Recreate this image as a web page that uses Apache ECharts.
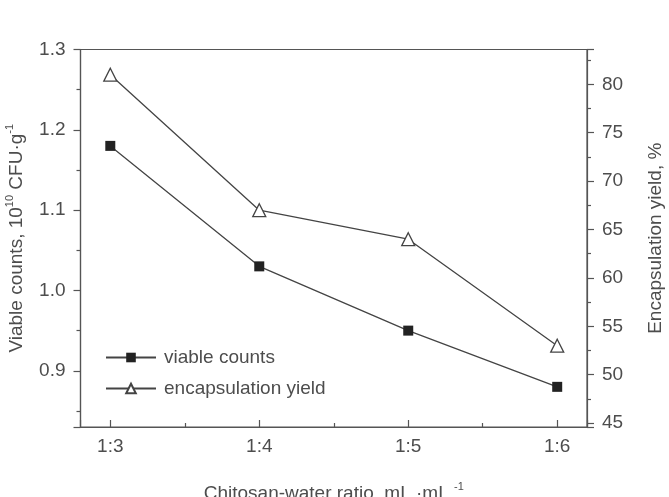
<!DOCTYPE html>
<html>
<head>
<meta charset="utf-8">
<script src="https://cdn.jsdelivr.net/npm/echarts@6/dist/echarts.min.js"></script>
<style>html,body{margin:0;padding:0;background:#fff;}#c{width:669px;height:497px;}</style>
</head>
<body>
<div id="c"></div>
<script>
var ratios = [3, 4, 5, 6];            // chitosan:water 1:x
var viableCounts = [1.18, 1.03, 0.95, 0.88];
var encapsulationYield = [81, 67, 64, 53];

var chart = echarts.init(document.getElementById('c'), null, {renderer: 'canvas'});
var font = 'Liberation Sans, Arial, sans-serif';
var txt = '#4d4d4d';
var axisCol = '#555555';
var fs = 19;

function pairs(vals) { return ratios.map(function (r, i) { return [r, vals[i]]; }); }
var rich = {
  m: {fontSize: fs, color: txt, fontFamily: font, lineHeight: 22, verticalAlign: 'bottom'},
  s: {fontSize: 11, color: txt, fontFamily: font, verticalAlign: 'top', lineHeight: 22}
};

chart.setOption({
  animation: false,
  backgroundColor: '#ffffff',
  textStyle: {fontFamily: font},
  grid: {left: 80.5, right: 82, top: 49.5, bottom: 70, containLabel: false, outerBoundsMode: 'none',
    show: true, borderColor: axisCol, borderWidth: 1.2, backgroundColor: 'transparent'},
  legend: {
    left: 100, top: 343, orient: 'vertical', itemGap: 12, itemWidth: 50, itemHeight: 12,
    textStyle: {fontFamily: font, fontSize: fs, color: txt, padding: [0, 0, 0, 3]},
    data: ['viable counts', 'encapsulation yield']
  },
  xAxis: {
    type: 'value', min: 2.8, max: 6.2, splitNumber: 4,
    axisLine: {lineStyle: {color: axisCol, width: 1.2}},
    axisTick: {inside: true, length: 7, lineStyle: {color: axisCol, width: 1.2}},
    minorTick: {show: true, splitNumber: 2, length: 4, lineStyle: {color: axisCol, width: 1.2}},
    splitLine: {show: false},
    axisLabel: {fontSize: fs, color: txt, margin: 10, fontFamily: font,
      formatter: function (v) { return Math.abs(v - Math.round(v)) < 1e-6 ? '1:' + Math.round(v) : ''; }},
    name: '{m|Chitosan-water ratio, mL ·mL }{s|-1}',
    nameLocation: 'middle', nameGap: 54,
    nameTextStyle: {rich: rich}
  },
  yAxis: [{
    type: 'value', min: 0.83, max: 1.3, splitNumber: 5, position: 'left',
    axisLine: {show: true, lineStyle: {color: axisCol, width: 1.2}},
    axisTick: {show: true, inside: false, length: 7, lineStyle: {color: axisCol, width: 1.2}},
    minorTick: {show: true, splitNumber: 2, length: 4, lineStyle: {color: axisCol, width: 1.2}},
    splitLine: {show: false},
    axisLabel: {fontSize: fs, color: txt, margin: 15, fontFamily: font,
      formatter: function (v) { return Math.abs(v * 10 - Math.round(v * 10)) < 1e-6 ? v.toFixed(1) : ''; }},
    name: '{m|Viable counts, 10}{s|10}{m| CFU·g}{s|-1}',
    nameLocation: 'middle', nameGap: 54, nameRotate: 90,
    nameTextStyle: {rich: rich}
  }, {
    type: 'value', min: 44.6, max: 83.6, splitNumber: 8, position: 'right',
    axisLine: {show: true, lineStyle: {color: axisCol, width: 1.2}},
    axisTick: {show: true, inside: false, length: 7, lineStyle: {color: axisCol, width: 1.2}},
    minorTick: {show: true, splitNumber: 2, length: 4, lineStyle: {color: axisCol, width: 1.2}},
    splitLine: {show: false},
    axisLabel: {fontSize: fs, color: txt, margin: 15, fontFamily: font,
      formatter: function (v) { return Math.abs(v / 5 - Math.round(v / 5)) < 1e-6 ? String(Math.round(v)) : ''; }},
    name: 'Encapsulation yield, %',
    nameLocation: 'middle', nameGap: 58, nameRotate: 90,
    nameTextStyle: {fontSize: fs, color: txt, fontFamily: font, lineHeight: 22}
  }],
  series: [{
    name: 'viable counts', type: 'line', yAxisIndex: 0,
    data: pairs(viableCounts),
    symbol: 'rect', symbolSize: 10,
    lineStyle: {color: '#444', width: 1.3},
    itemStyle: {color: '#222', borderColor: '#222', borderWidth: 0}
  }, {
    name: 'encapsulation yield', type: 'line', yAxisIndex: 1,
    data: pairs(encapsulationYield),
    symbol: 'triangle', symbolSize: 13,
    lineStyle: {color: '#444', width: 1.3},
    itemStyle: {color: '#ffffff', borderColor: '#444', borderWidth: 1.3}
  }]
});
</script>
</body>
</html>
